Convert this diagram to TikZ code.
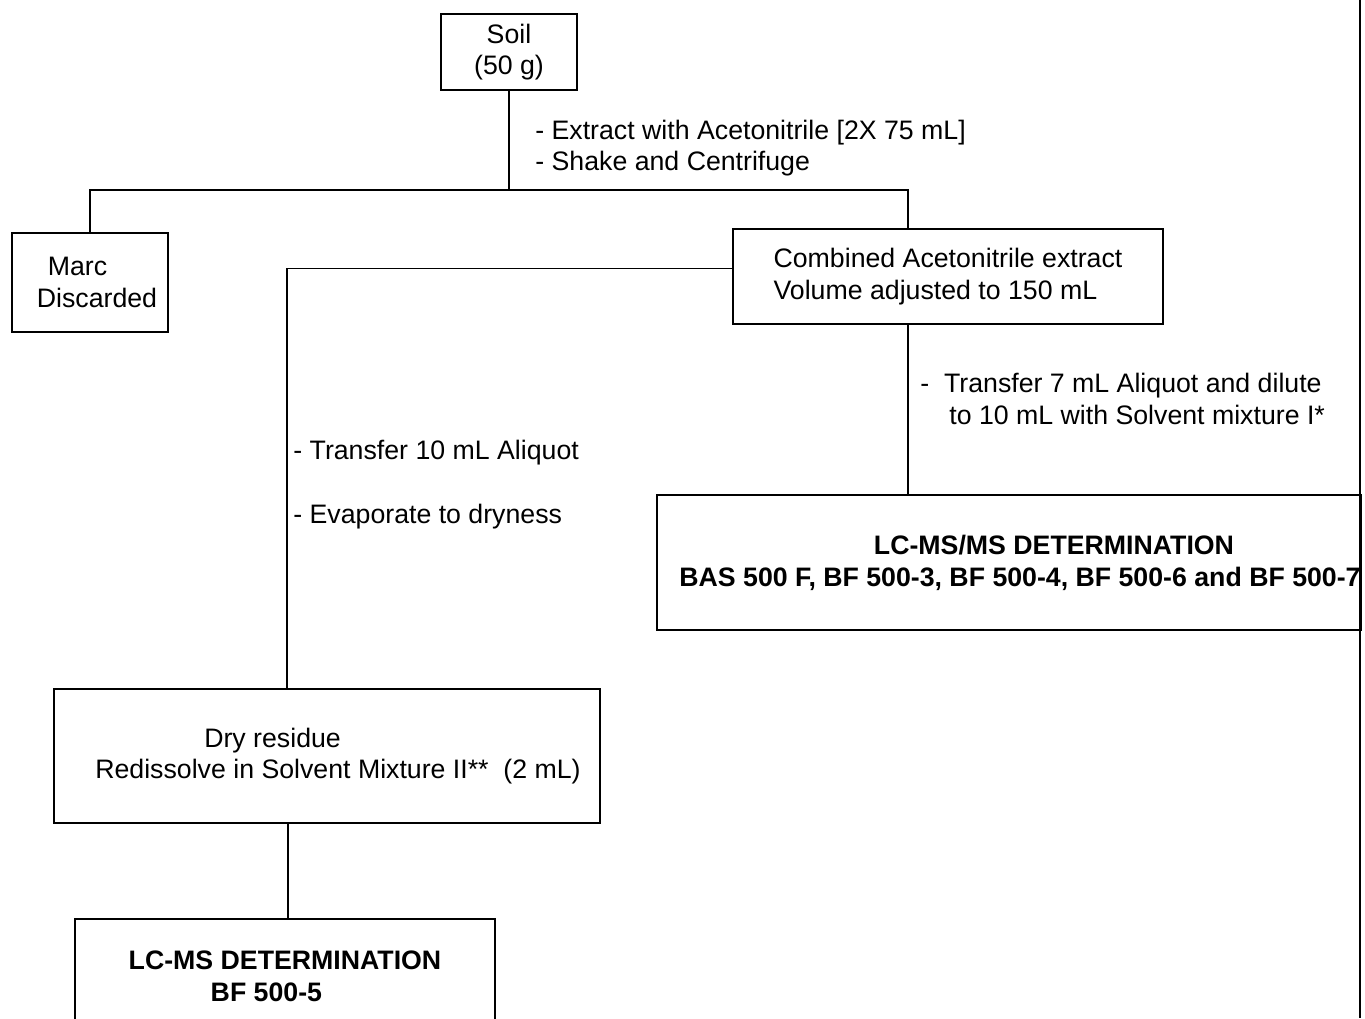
\documentclass[tikz,border=0pt]{standalone}
\usepackage{fontspec}
\setmainfont{Liberation Sans}
\usetikzlibrary{positioning, calc}

\begin{document}
\begin{tikzpicture}[
  x=0.02cm, y=-0.02cm,
  font=\fontsize{15.2}{18.1}\selectfont,
  box/.style={draw, line width=1.1pt, align=center, inner sep=0pt},
  bold/.style={font=\fontsize{15.2}{18.1}\selectfont\bfseries},
  note/.style={anchor=west, inner sep=0pt, align=left},
  link/.style={line width=1.1pt}
]

%% ===== page frame =====
\useasboundingbox (0,0) rectangle (1365,1018);
\clip (0,0) rectangle (1365,1018);
\draw[link] (1360,0) -- (1360,1018);

%% ===== boxes =====
\node[box, minimum width=2.72cm, minimum height=1.52cm] (soil) at (509,52)
  {Soil\\(50 g)};
\node[box, align=left, minimum width=3.12cm, minimum height=1.98cm] (marc) at (90,282.5)
  {\hspace*{0.5cm}Marc\\\hspace*{0.28cm}Discarded};
\node[box, align=left, minimum width=8.6cm, minimum height=1.9cm] (comb) at (948,276.5)
  {Combined Acetonitrile extract\\Volume adjusted to 150 mL};
\node[box, bold, minimum width=14.08cm, minimum height=2.7cm] (lcmsms) at (1009,562.5)
  {\hspace*{1.8cm}LC-MS/MS DETERMINATION\\\hspace*{0.44cm}BAS 500 F, BF 500-3, BF 500-4, BF 500-6 and BF 500-7};
\node[box, align=left, minimum width=10.92cm, minimum height=2.68cm] (dry) at (327,756)
  {\hspace*{2.62cm}Dry residue\\\hspace*{0.44cm}Redissolve in Solvent Mixture II**\ \ (2 mL)};
\node[box, bold, align=left, minimum width=8.4cm, minimum height=2.28cm] (lcms) at (285,976)
  {LC-MS DETERMINATION\\\hspace*{1.64cm}BF 500-5};

%% ===== connectors =====
\coordinate (split) at (509,190);
\draw[link] (soil.south) -- (split);
\draw[link] (marc.north) |- (split) -| ($(comb.north)+(-40,0)$);
\draw[link] ($(comb.west)+(0,-8)$) -| ($(dry.north)+(-40,0)$);
\draw[link] ($(comb.south)+(-40,0)$) coordinate (cb) -- (cb |- lcmsms.north);
\draw[link] ($(dry.south)+(-39,0)$) coordinate (db) -- (db |- lcms.north);

%% ===== step notes =====
\node[note] (extract) at (535,148)
  {- Extract with Acetonitrile [2X 75 mL]\\- Shake and Centrifuge};
\node[note] (aliquot) at (293,453) {- Transfer 10 mL Aliquot};
\node[note] (evap) at (293,517) {- Evaporate to dryness};
\node[note] (dilute) at (920,399)
  {-\ \ Transfer 7 mL Aliquot and dilute\\\hspace*{0.58cm}to 10 mL with Solvent mixture I*};

\end{tikzpicture}
\end{document}
